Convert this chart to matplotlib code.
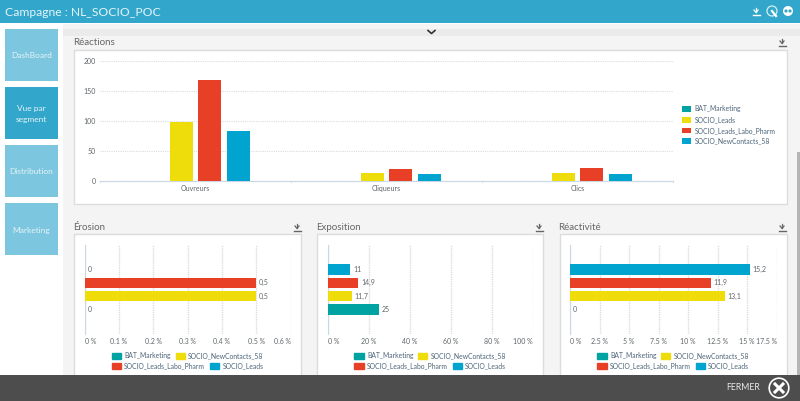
import matplotlib
matplotlib.use('Agg')
import matplotlib.pyplot as plt
from matplotlib.patches import Rectangle, Circle

plt.rcParams['font.family'] = ['Lato', 'DejaVu Sans']

# Datos
series = ['BAT_Marketing', 'SOCIO_Leads', 'SOCIO_Leads_Labo_Pharm', 'SOCIO_NewContacts_58']
colors = ['#00a3a1', '#efdc0b', '#e84027', '#00a4cf']
reaction_cats = ['Ouvreurs', 'Cliqueurs', 'Clics']
reaction_vals = [[0, 0, 0], [99, 14, 14], [168, 20, 22], [84, 11, 11]]
reaction_ticks = [0, 50, 100, 150, 200]

# lignes de bas en haut : BAT, jaune, rouge, bleu
erosion_vals = [0, 0.5, 0.5, 0]
erosion_ticks = [0, 0.1, 0.2, 0.3, 0.4, 0.5, 0.6]
erosion_ticklabels = ['0 %', '0.1 %', '0.2 %', '0.3 %', '0.4 %', '0.5 %', '0.6 %']
exposition_vals = [25, 11.7, 14.9, 11]
exposition_ticks = [0, 20, 40, 60, 80, 100]
exposition_ticklabels = ['0 %', '20 %', '40 %', '60 %', '80 %', '100 %']
reactivite_vals = [0, 13.1, 11.9, 15.2]
reactivite_ticks = [0, 2.5, 5, 7.5, 10, 12.5, 15, 17.5]
reactivite_ticklabels = ['0 %', '2.5 %', '5 %', '7.5 %', '10 %', '12.5 %', '15 %', '17.5 %']
legend_rows = [['BAT_Marketing', 'SOCIO_NewContacts_58'], ['SOCIO_Leads_Labo_Pharm', 'SOCIO_Leads']]
legend_colors = [['#00a3a1', '#efdc0b'], ['#e84027', '#00a4cf']]

W, H = 800, 401
TEXT = '#5f6669'
LEG = '#4b6478'
GRID = '#d9dcde'
AXIS = '#c9d8e4'
LEG_SIZE = 4.9

fig = plt.figure(figsize=(8, 4.01), dpi=100, facecolor='white')


def px_axes(x0, y0, x1, y1, **kw):
    return fig.add_axes([x0 / W, 1 - y1 / H, (x1 - x0) / W, (y1 - y0) / H], **kw)


# Interface autour des graphiques
ui = px_axes(0, 0, W, H, zorder=0)
ui.set_xlim(0, W)
ui.set_ylim(H, 0)
ui.axis('off')


def box(x0, y0, x1, y1, color, **kw):
    ui.add_patch(Rectangle((x0, y0), x1 - x0, y1 - y0, facecolor=color, edgecolor='none', **kw))


def download_icon(x, y, color='#666666'):
    ui.plot([x, x], [y - 3.5, y + 1], color=color, lw=0.9)
    ui.plot([x - 2, x, x + 2], [y - 1, y + 1.5, y - 1], color=color, lw=0.9)
    ui.plot([x - 3.5, x + 3.5], [y + 3.5, y + 3.5], color=color, lw=1)


box(63, 24, W, H, '#f4f4f4')
box(63, 29, W, 36, '#ebebeb')
box(0, 0, W, 23, '#33a7cb')
ui.text(5, 12, 'Campagne : NL_SOCIO_POC', color='#e4f3f8', fontsize=8.7, va='center')

buttons = [('DashBoard', 29, '#7cc6df'), ('Vue par\nsegment', 87, '#33a7cb'),
           ('Distribution', 145, '#7cc6df'), ('Marketing', 203, '#7cc6df')]
for label, top, col in buttons:
    box(5, top, 58, top + 52, col)
    ui.text(31.5, top + 27, label, color='#e6f4f8', fontsize=6, ha='center', va='center', linespacing=1.7)

for x0, y0, x1, y1 in [(74, 50, 787, 204), (74, 234, 300.5, 380), (317, 234, 543, 380), (559.5, 234, 787, 380)]:
    ui.add_patch(Rectangle((x0, y0), x1 - x0, y1 - y0, facecolor='white', edgecolor='#dcdcdc', lw=1))

for label, x, y in [('Réactions', 73.5, 42.5), ('Érosion', 73.5, 227), ('Exposition', 316.5, 227), ('Réactivité', 558.5, 227)]:
    ui.text(x, y, label, color='#666666', fontsize=7, va='center')
for x, y in [(782, 42), (297, 227), (539, 227), (782, 227)]:
    download_icon(x, y)

ui.plot([428, 431.5, 435], [30.5, 33.5, 30.5], color='#333333', lw=1.2)
box(797, 152, W, 375, '#b5b5b5')

# icônes du bandeau
download_icon(756, 11, 'white')
ui.add_patch(Circle((772, 11), 5, facecolor='none', edgecolor='#d6eef5', lw=0.9))
ui.plot([772, 776], [11, 16], color='white', lw=1.6)
ui.add_patch(Circle((788, 11), 5, facecolor='white', edgecolor='none'))
ui.add_patch(Circle((786, 11), 1.6, facecolor='#33a7cb', edgecolor='none'))
ui.add_patch(Circle((790, 11), 1.6, facecolor='#33a7cb', edgecolor='none'))

# Réactions
ax = px_axes(100, 61, 673, 181, zorder=2)
ax.patch.set_alpha(0)
handles = []
for i, vals in enumerate(reaction_vals):
    pos = [c + (i - 1.5) * 0.15 for c in range(len(reaction_cats))]
    handles.append(ax.bar(pos, vals, width=0.12, color=colors[i], label=series[i], zorder=3))
ax.set_xlim(-0.5, 2.5)
ax.set_ylim(0, 200)
ax.set_yticks(reaction_ticks)
ax.set_xticks(range(len(reaction_cats)), reaction_cats)
ax.grid(axis='y', color=GRID, lw=0.8, ls=(0, (1, 1)), zorder=0)
ax.tick_params(axis='y', length=0, labelsize=5, labelcolor=TEXT, pad=3)
ax.tick_params(axis='x', length=0, labelsize=5, labelcolor=TEXT, pad=3)
for s in ['top', 'right', 'left']:
    ax.spines[s].set_visible(False)
ax.spines['bottom'].set_color(AXIS)
for x in [-0.5, 0.5, 1.5, 2.5]:
    ax.plot([x, x], [0, -2], color=AXIS, lw=0.7, clip_on=False)
fig.legend(handles=handles, loc='center left', bbox_to_anchor=(682 / W, 1 - 125 / H), frameon=False,
           fontsize=LEG_SIZE, labelcolor=LEG, handlelength=1.35, handleheight=0.95, handletextpad=0.5,
           labelspacing=0.55, borderpad=0, borderaxespad=0)


# Les trois petits graphiques
def small_chart(x0, x1, vals, ticks, ticklabels, xmax, labels):
    a = px_axes(x0, 245, x1, 334, zorder=2)
    a.patch.set_alpha(0)
    a.barh(range(4), vals, height=0.8, color=colors, zorder=3)
    a.set_xlim(0, xmax)
    a.set_ylim(-1.85, 4.85)
    a.set_yticks([])
    a.set_xticks(ticks, ticklabels)
    a.grid(axis='x', color=GRID, lw=1, ls=(0, (1, 0.7)), zorder=0)
    a.tick_params(axis='x', length=0, labelsize=5, labelcolor=TEXT, pad=3)
    # premier et dernier libellé restent dans la zone du graphique
    tl = a.get_xticklabels()
    tl[0].set_ha('left')
    tl[-1].set_ha('right')
    for s in ['top', 'right', 'bottom']:
        a.spines[s].set_visible(False)
    a.spines['left'].set_color(AXIS)
    for i, (v, lab) in enumerate(zip(vals, labels)):
        a.annotate(lab, (v, i), xytext=(2, 0), textcoords='offset points', fontsize=5,
                   color=TEXT, va='center')
    # légende sur deux lignes centrées
    center = (x0 + x1) / 2
    for row, cols, y in zip(legend_rows, legend_colors, [355.5, 365.5]):
        h = [Rectangle((0, 0), 1, 1, color=c) for c in cols]
        leg = fig.legend(h, row, ncol=2, loc='center', bbox_to_anchor=(center / W, 1 - y / H), frameon=False,
                         fontsize=LEG_SIZE, labelcolor=LEG, handlelength=1.35, handleheight=0.95,
                         handletextpad=0.5, columnspacing=0.7, borderpad=0, borderaxespad=0)
        leg.set_zorder(3)


small_chart(84.7, 290.6, erosion_vals, erosion_ticks, erosion_ticklabels, 0.6, ['0', '0,5', '0,5', '0'])
small_chart(327.7, 533, exposition_vals, exposition_ticks, exposition_ticklabels, 100, ['25', '11,7', '14,9', '11'])
small_chart(570, 776.7, reactivite_vals, reactivite_ticks, reactivite_ticklabels, 17.5, ['0', '13,1', '11,9', '15,2'])

# Pied de page, au-dessus de tout
foot = px_axes(0, 375, W, H, zorder=5)
foot.set_xlim(0, W)
foot.set_ylim(H, 375)
foot.axis('off')
foot.add_patch(Rectangle((0, 375), W, 26, facecolor='#4d4d4d', edgecolor='none'))
foot.text(743, 388, 'FERMER', color='#e8e8e8', fontsize=6.3, ha='center', va='center')
foot.add_patch(Circle((779, 388), 9.8, facecolor='none', edgecolor='white', lw=1.2))
foot.plot([775, 783], [384, 392], color='white', lw=2.2)
foot.plot([775, 783], [392, 384], color='white', lw=2.2)

plt.savefig('out.png', dpi=100)
